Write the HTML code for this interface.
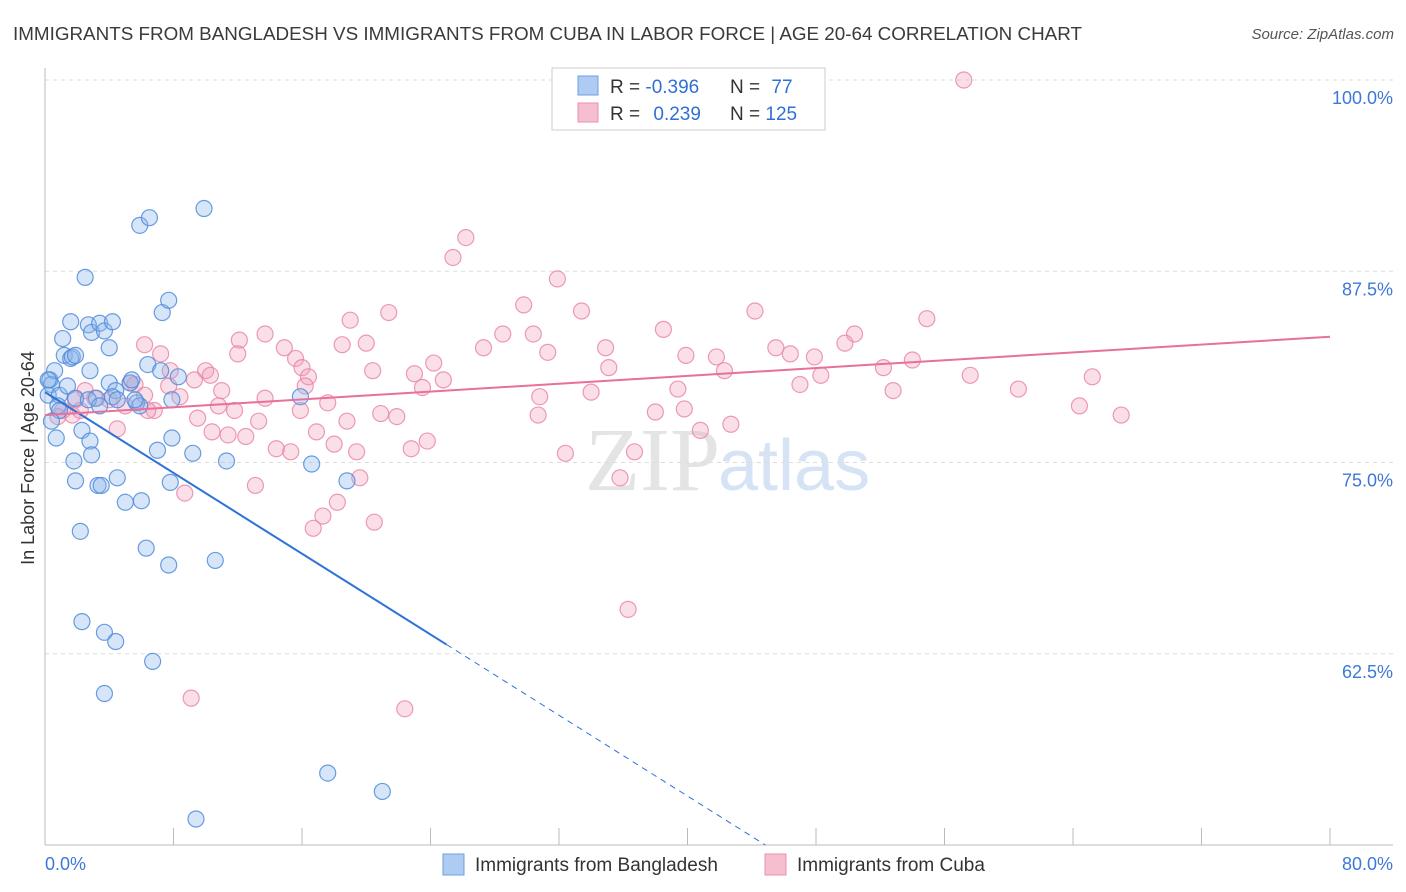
<!DOCTYPE html>
<html><head><meta charset="utf-8"><style>
body{margin:0;background:#fff;width:1406px;height:892px;overflow:hidden;font-family:"Liberation Sans",sans-serif}
svg{display:block}
</style></head><body>
<svg id="chart" width="1406" height="892">
<text x="13" y="40" font-size="18" fill="#3a3a3a" textLength="1069" lengthAdjust="spacingAndGlyphs">IMMIGRANTS FROM BANGLADESH VS IMMIGRANTS FROM CUBA IN LABOR FORCE | AGE 20-64 CORRELATION CHART</text>
<text x="1394" y="39" font-size="15" fill="#555" font-style="italic" text-anchor="end">Source: ZipAtlas.com</text>
<text x="720" y="490" font-size="90" fill="#e4e4e4" text-anchor="end" font-family="Liberation Serif">ZIP</text>
<text x="718" y="490" font-size="72" fill="#d6e3f5">atlas</text>
<g id="grid"></g>
<g id="axes"></g>
<g id="pts"></g>
<g id="trends"></g>
<text x="0" y="0" transform="translate(34,458) rotate(-90)" font-size="18" fill="#333" text-anchor="middle">In Labor Force | Age 20-64</text>
<g>
<rect x="552" y="68" width="273" height="62" fill="#fff" stroke="#ccc"/>
<rect x="578" y="76" width="20" height="19" fill="#aecbf2" stroke="#6b9fe0"/>
<rect x="578" y="103" width="20" height="19" fill="#f6bfd0" stroke="#e892ae"/>
<text x="610" y="93" font-size="19" fill="#333">R = <tspan fill="#2f6fd6">-0.396</tspan></text>
<text x="730" y="93" font-size="19" fill="#333">N = <tspan fill="#2f6fd6" dx="6">77</tspan></text>
<text x="610" y="120" font-size="19" fill="#333">R = <tspan fill="#2f6fd6" dx="8">0.239</tspan></text>
<text x="730" y="120" font-size="19" fill="#333">N = <tspan fill="#2f6fd6">125</tspan></text>
</g>
<g>
<rect x="443" y="854" width="21" height="21" fill="#aecbf2" stroke="#6b9fe0"/>
<text x="475" y="871" font-size="19" fill="#333">Immigrants from Bangladesh</text>
<rect x="765" y="854" width="21" height="21" fill="#f6bfd0" stroke="#e892ae"/>
<text x="797" y="871" font-size="19" fill="#333">Immigrants from Cuba</text>
</g>
</svg>
<script>
const yTicks=[100,87.5,75,62.5];
const yTickLabels=["100.0%","87.5%","75.0%","62.5%"];
const xTicks=[0,8,16,24,32,40,48,56,64,72,80];
const xLabels=["0.0%","80.0%"];
const blueX=[0.3,0.4,0.2,0.6,0.9,0.8,0.7,1.1,1.2,1.6,1.6,1.7,1.9,1.4,1.9,1.8,1.9,2.2,2.3,2.5,2.7,2.9,2.8,2.8,2.9,3.2,3.3,3.4,3.5,3.7,3.7,4.0,4.0,4.2,4.4,4.5,5.0,5.3,5.7,5.9,6.0,6.3,6.5,6.4,6.7,7.0,7.3,7.7,7.7,7.8,7.9,8.3,7.9,9.2,9.4,9.9,10.6,11.3,15.9,16.6,17.6,18.8,21.0,2.3,3.7,4.4,2.7,0.9,0.4,0.2,3.4,5.9,5.6,4.2,4.5,5.4,7.2];
const blueY=[80.4,80.1,79.4,81.0,79.4,78.7,76.6,83.1,82.0,84.2,81.8,81.9,82.0,80.0,79.2,75.1,73.8,70.5,77.1,87.1,84.0,83.5,81.0,76.4,75.5,79.2,73.5,84.1,73.5,83.6,63.9,82.5,80.2,84.2,79.7,74.0,72.4,80.2,78.9,90.5,72.5,69.4,91.0,81.4,62.0,75.8,84.8,85.6,68.3,73.7,76.6,80.6,79.1,75.6,51.7,91.6,68.6,75.1,79.3,74.9,54.7,73.8,53.5,64.6,59.9,63.3,79.1,78.4,77.7,80.4,78.7,78.7,79.1,79.3,79.1,80.4,81.0];
const pinkX=[57.2,26.2,25.4,31.9,29.8,33.4,44.2,21.4,19.0,38.5,54.9,50.4,28.5,30.4,13.7,12.1,6.2,7.2,12.0,14.9,15.6,18.5,20.0,27.3,31.3,34.9,39.9,41.8,45.5,46.4,47.9,49.8,54.0,52.2,57.6,65.2,60.6,64.4,67.0,52.8,48.3,47.0,42.3,39.4,38.0,39.8,40.8,42.7,30.8,30.7,34.0,35.1,24.2,24.8,23.5,23.0,20.4,16.0,16.4,16.2,10.0,10.3,11.0,10.8,7.7,8.4,9.3,5.3,5.6,6.8,6.4,5.0,4.0,3.1,2.5,1.9,1.7,1.1,0.8,2.2,4.5,9.5,10.4,11.4,12.5,13.7,13.3,14.4,15.3,16.9,17.6,18.0,18.8,19.4,20.9,21.9,22.8,23.8,19.6,18.2,17.3,16.7,20.5,13.1,8.7,32.4,36.7,35.8,36.3,9.1,22.4,7.8,6.2,15.9,11.8];
const pinkY=[100,89.7,88.4,87.0,85.3,84.9,84.9,84.8,84.3,83.7,84.4,83.4,83.4,83.4,83.4,83.0,82.7,82.1,82.1,82.5,81.8,82.7,82.8,82.5,82.2,82.5,82.0,81.9,82.5,82.1,81.9,82.8,81.7,81.2,80.7,80.6,79.8,78.7,78.1,79.7,80.7,80.1,81.0,79.8,78.3,78.5,77.1,77.5,79.3,78.1,79.6,81.2,81.5,80.4,79.9,80.8,81.0,81.2,80.6,80.0,81.0,80.7,79.7,78.7,80.0,79.3,80.4,80.2,80.1,78.4,78.4,78.7,79.1,79.2,79.7,79.1,78.1,78.4,78.0,78.4,77.2,77.9,77.0,76.8,76.7,79.2,77.7,75.9,75.7,77.0,78.9,76.2,77.7,75.7,78.2,78.0,75.9,76.4,74.0,72.4,71.5,70.7,71.1,73.5,73.0,75.6,75.7,74.0,65.4,59.6,58.9,81.0,79.4,78.4,78.4];
const blueTrend=[79.6,-0.66];   // intercept, slope
const pinkTrend=[78.1,0.064];
const blueSolidEnd=[25];
const NS="http://www.w3.org/2000/svg";
const X0=45,X1=1330,YT=80,YB=845;
const sx=v=>X0+(v/80)*(X1-X0);
const sy=v=>YT+(100-v)/50*(YB-YT);
function mk(tag,attrs,parent){const e=document.createElementNS(NS,tag);for(const k in attrs)e.setAttribute(k,attrs[k]);parent.appendChild(e);return e;}
const grid=document.getElementById('grid'),axes=document.getElementById('axes'),pts=document.getElementById('pts'),tr=document.getElementById('trends');
yTicks.forEach((t,i)=>{
 const l=mk('line',{x1:X0,x2:1393,y1:sy(t),y2:sy(t),stroke:'#ddd','stroke-dasharray':'4,4'},grid);
 
 
 const tx=mk('text',{x:1393,y:sy(t)+24,'font-size':18,fill:'#3d78d8','text-anchor':'end'},grid);
 tx.textContent=yTickLabels[i];
 
 
});
const ax=mk('line',{x1:X0,x2:X0,y1:68,y2:YB,stroke:'#bbb'},axes);


const bx=mk('line',{x1:X0,x2:1393,y1:YB,y2:YB,stroke:'#bbb'},axes);


xTicks.forEach(t=>{
 const l=mk('line',{x1:sx(t),x2:sx(t),y1:828,y2:YB,stroke:'#bbb'},axes);
 
 
});
const xl0=mk('text',{x:45,y:870,'font-size':18,fill:'#3d78d8'},axes);xl0.textContent=xLabels[0];


const xl1=mk('text',{x:1393,y:870,'font-size':18,fill:'#3d78d8','text-anchor':'end'},axes);xl1.textContent=xLabels[1];


pinkX.forEach((v,i)=>{
 const c=mk('circle',{cx:sx(v),cy:sy(pinkY[i]),r:8,fill:'rgba(242,160,188,0.35)',stroke:'rgba(232,130,165,0.8)','stroke-width':1.2},pts);
 
 
});
blueX.forEach((v,i)=>{
 const c=mk('circle',{cx:sx(v),cy:sy(blueY[i]),r:8,fill:'rgba(140,180,235,0.35)',stroke:'rgba(80,140,220,0.85)','stroke-width':1.2},pts);
 
 
});
const bf=x=>blueTrend[0]+blueTrend[1]*x;
const xEnd=(50-blueTrend[0])/blueTrend[1];
const b1=mk('line',{x1:sx(0),y1:sy(bf(0)),x2:sx(blueSolidEnd[0]),y2:sy(bf(blueSolidEnd[0])),stroke:'#2e72d8','stroke-width':2},tr);


const b2=mk('line',{x1:sx(blueSolidEnd[0]),y1:sy(bf(blueSolidEnd[0])),x2:sx(xEnd),y2:sy(50),stroke:'#2e72d8','stroke-width':1,'stroke-dasharray':'6,5'},tr);


const pf=x=>pinkTrend[0]+pinkTrend[1]*x;
const p1=mk('line',{x1:sx(0),y1:sy(pf(0)),x2:sx(80),y2:sy(pf(80)),stroke:'#e8709a','stroke-width':2},tr);


</script>
</body></html>
